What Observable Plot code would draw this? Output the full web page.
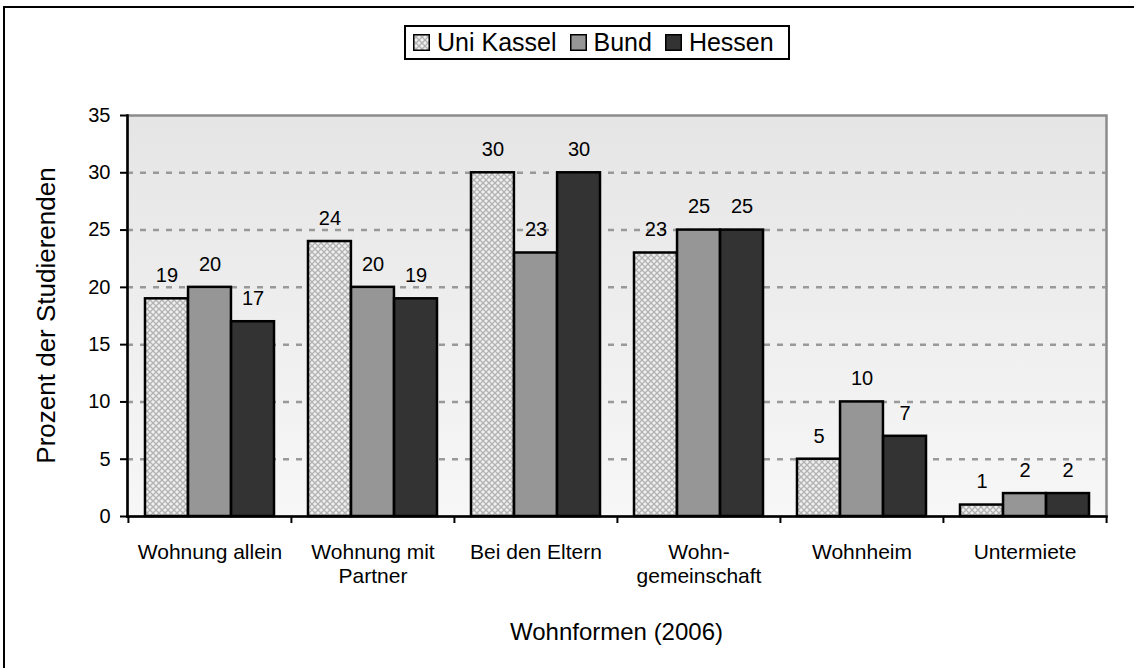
<!DOCTYPE html>
<html><head><meta charset="utf-8">
<script src="https://cdn.jsdelivr.net/npm/d3@7"></script>
<script src="https://cdn.jsdelivr.net/npm/@observablehq/plot@0.6"></script>
<style>
html,body{margin:0;padding:0;background:#fff;overflow:hidden;}
#wrap{position:relative;width:1134px;height:668px;overflow:hidden;font-family:"Liberation Sans",Arial,sans-serif;}
#border{position:absolute;left:3px;top:6px;width:3000px;height:3000px;border:2.5px solid #000;box-sizing:border-box;}
#chart{position:absolute;left:0;top:0;}
#legend{position:absolute;left:404px;top:25px;width:386px;height:35px;box-sizing:border-box;border:2px solid #000;background:#fff;display:flex;align-items:center;padding-left:7px;font-size:25px;color:#000;}
.item{display:flex;align-items:center;margin-right:13px;}
.sw{display:block;margin-right:7px;}
</style>
</head><body>
<div id="wrap">
  <div id="border"></div>
  <div id="chart"></div>
  <div id="legend"></div>
</div>
<script>
const categories = ["Wohnung allein", "Wohnung mit Partner", "Bei den Eltern", "Wohngemeinschaft", "Wohnheim", "Untermiete"];
const categoryLabels = ["Wohnung allein", "Wohnung mit\nPartner", "Bei den Eltern", "Wohn-\ngemeinschaft", "Wohnheim", "Untermiete"];
const seriesNames = ["Uni Kassel", "Bund", "Hessen"];
const uniKassel = [19, 24, 30, 23, 5, 1];
const bund = [20, 20, 23, 25, 10, 2];
const hessen = [17, 19, 30, 25, 7, 2];
const yTicks = [0, 5, 10, 15, 20, 25, 30, 35];
const xTitle = "Wohnformen (2006)";
const yTitle = "Prozent der Studierenden";

const seriesValues = [uniKassel, bund, hessen];
const seriesFills = ["url(#hatchUK)", "#969696", "#333333"];
const rows = seriesNames.flatMap((s, j) => categories.map((c, i) => ({category: c, series: s, j, value: seriesValues[j][i]})));

const W = 1134, H = 668, mL = 127, mR = 28, mT = 115, mB = 152;
const step = (W - mL - mR) / categories.length;
const padInner = 34 / 163;
const seg = step * (1 - padInner) / 3;
const font = '"Liberation Sans", Arial, sans-serif';

const defs = () => {
  const d = d3.create("svg:defs");
  const p = d.append("pattern").attr("id", "hatchUK").attr("width", 6).attr("height", 6).attr("patternUnits", "userSpaceOnUse");
  p.append("rect").attr("width", 6).attr("height", 6).attr("fill", "#efefef");
  p.append("path").attr("d", "M0,0L6,6M6,0L0,6").attr("stroke", "#b2b2b2").attr("stroke-width", 1.3);
  const g = d.append("linearGradient").attr("id", "bgGrad").attr("x1", 0).attr("y1", 0).attr("x2", 0).attr("y2", 1);
  g.append("stop").attr("offset", 0).attr("stop-color", "#e5e5e5");
  g.append("stop").attr("offset", 1).attr("stop-color", "#f7f7f7");
  return d.node();
};

const chart = Plot.plot({
  width: W, height: H,
  marginLeft: mL, marginRight: mR, marginTop: mT, marginBottom: mB,
  style: {fontFamily: font, fontSize: "20px", color: "#000", background: "transparent", overflow: "visible"},
  x: {domain: categories, paddingInner: padInner, paddingOuter: padInner / 2, align: 0.5},
  y: {domain: [0, 35]},
  marks: [
    defs,
    Plot.frame({fill: "url(#bgGrad)", stroke: "#8c8c8c", strokeWidth: 2.5}),
    Plot.gridY(yTicks.filter(t => t > 0 && t < 35), {stroke: "#999", strokeOpacity: 1, strokeWidth: 2.5, strokeDasharray: "6,7"}),
    ...seriesNames.map((s, j) => Plot.barY(rows.filter(r => r.j === j), {
      x: "category", y: "value", fill: seriesFills[j], stroke: "#000", strokeWidth: 2.5,
      insetLeft: j * seg, insetRight: (2 - j) * seg
    })),
    ...seriesNames.map((s, j) => Plot.text(rows.filter(r => r.j === j), {
      x: "category", y: "value", text: d => String(d.value), dx: (j - 1) * seg, dy: -23, fontSize: 20, fill: "#000"
    })),
    Plot.axisY(yTicks, {tickSize: 7, tickPadding: 10, fontSize: 20, strokeWidth: 2, label: null}),
    Plot.axisX({tickSize: 0, tickPadding: 25, fontSize: 21, lineHeight: 1.15, label: null,
      tickFormat: c => categoryLabels[categories.indexOf(c)]}),
    Plot.axisX({tickSize: 7, tickFormat: () => "", dx: -step / 2, strokeWidth: 2, label: null}),
    Plot.axisX([categories[categories.length - 1]], {tickSize: 7, tickFormat: () => "", dx: step / 2, strokeWidth: 2, label: null}),
    Plot.frame({anchor: "left", stroke: "#000", strokeWidth: 2.5}),
    Plot.frame({anchor: "bottom", stroke: "#000", strokeWidth: 2.5})
  ]
});

const svg = d3.select(chart);
svg.append("text").attr("transform", `translate(55,${(mT + H - mB) / 2}) rotate(-90)`)
  .attr("text-anchor", "middle").attr("font-size", 26).attr("font-family", font).attr("fill", "#000").text(yTitle);
svg.append("text").attr("x", mL + (W - mL - mR) / 2).attr("y", 640)
  .attr("text-anchor", "middle").attr("font-size", 24).attr("font-family", font).attr("fill", "#000").text(xTitle);
document.getElementById("chart").appendChild(chart);

const legend = d3.select("#legend");
seriesNames.forEach((s, j) => {
  const it = legend.append("div").attr("class", "item");
  const sw = it.append("svg").attr("class", "sw").attr("width", 17).attr("height", 17);
  sw.append("rect").attr("x", 0.75).attr("y", 0.75).attr("width", 15.5).attr("height", 15.5)
    .attr("fill", seriesFills[j]).attr("stroke", "#000").attr("stroke-width", 1.5);
  it.append("span").text(s);
});
</script>
</body></html>
